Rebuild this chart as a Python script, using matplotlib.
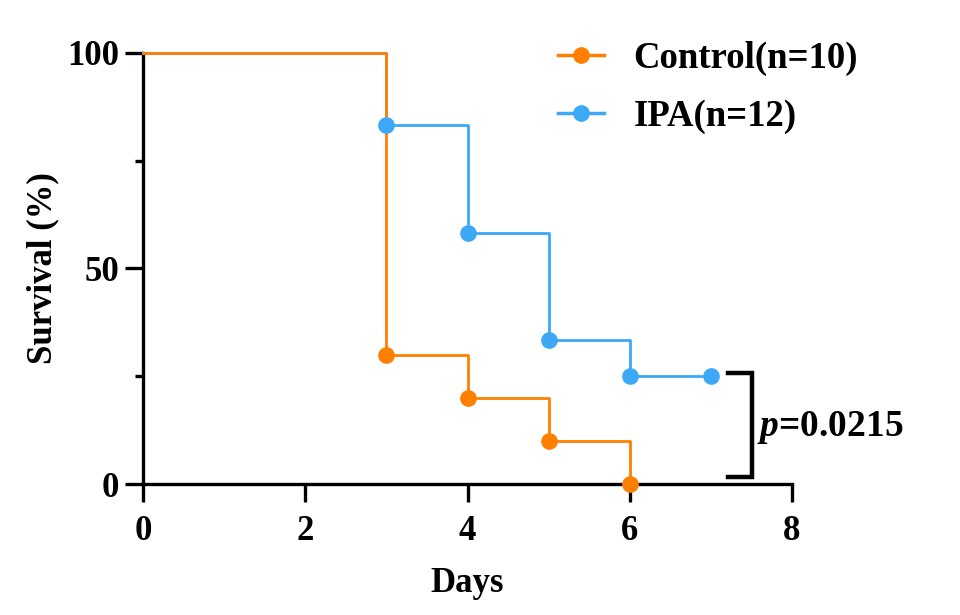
import matplotlib.pyplot as plt

plt.rcParams['font.family'] = ['Liberation Serif', 'DejaVu Serif']
plt.rcParams['font.weight'] = 'bold'
plt.rcParams['mathtext.fontset'] = 'custom'
plt.rcParams['mathtext.it'] = 'Liberation Serif:italic:bold'
plt.rcParams['mathtext.rm'] = 'Liberation Serif:bold'

# Kaplan-Meier steps
ctrl_days = [0, 3, 4, 5, 6]
ctrl_surv = [100, 30, 20, 10, 0]
ipa_days = [0, 3, 4, 5, 6, 7]
ipa_surv = [100, 83.33, 58.33, 33.33, 25, 25]
ctrl_label = 'Control(n=10)'
ipa_label = 'IPA(n=12)'
p_text = '$p$=0.0215'

orange = '#FF7F00'
blue = '#3DA8F5'

fig = plt.figure(figsize=(9.6, 6.15), dpi=100)
ax = fig.add_axes([0.149, 0.213, 0.676, 0.701])

ax.step(ipa_days, ipa_surv, where='post', color=blue, lw=2.0, clip_on=False, zorder=3)
ax.step(ctrl_days, ctrl_surv, where='post', color=orange, lw=2.0, clip_on=False, zorder=4)
ax.plot(ctrl_days[1:], ctrl_surv[1:], 'o', color=orange, ms=11, clip_on=False, zorder=5)
ax.plot(ipa_days[1:], ipa_surv[1:], 'o', color=blue, ms=11, clip_on=False, zorder=6)

# legend handles
h1, = ax.plot([], [], '-o', color=orange, lw=2.5, ms=11, label=ctrl_label)
h2, = ax.plot([], [], '-o', color=blue, lw=2.5, ms=11, label=ipa_label)
fig.legend(handles=[h1, h2], loc='upper left', bbox_to_anchor=(0.547, 0.987),
           frameon=False, prop={'size': 26.5, 'weight': 'bold'},
           handlelength=1.25, handletextpad=0.8, labelspacing=0.62)

# significance bracket
ax.plot([7.21, 7.51, 7.51, 7.21], [25.7, 25.7, 1.6, 1.6], color='black', lw=3.2,
        solid_joinstyle='miter', clip_on=False, zorder=5)
ax.text(7.57, 13, p_text, fontsize=27, fontweight='bold', va='center', ha='left')

ax.set_xlim(0, 8)
ax.set_ylim(0, 100)
ax.set_xticks([0, 2, 4, 6, 8])
ax.set_yticks([0, 50, 100])
ax.set_yticks([25, 75], minor=True)
for s in ['top', 'right']:
    ax.spines[s].set_visible(False)
for s in ['left', 'bottom']:
    ax.spines[s].set_linewidth(2.4)
ax.tick_params(axis='both', which='major', length=13, width=2.4, labelsize=25)
ax.tick_params(axis='x', which='major', pad=9)
ax.tick_params(axis='y', which='major', pad=4)
ax.tick_params(axis='y', which='minor', length=6, width=2.4)
for lab in ax.get_xticklabels() + ax.get_yticklabels():
    lab.set_fontweight('bold')

ax.set_xlabel('Days', fontsize=25, fontweight='bold', labelpad=14)
ax.set_ylabel('Survival (%)', fontsize=25, fontweight='bold', labelpad=6)

fig.savefig('out.png', dpi=100)
